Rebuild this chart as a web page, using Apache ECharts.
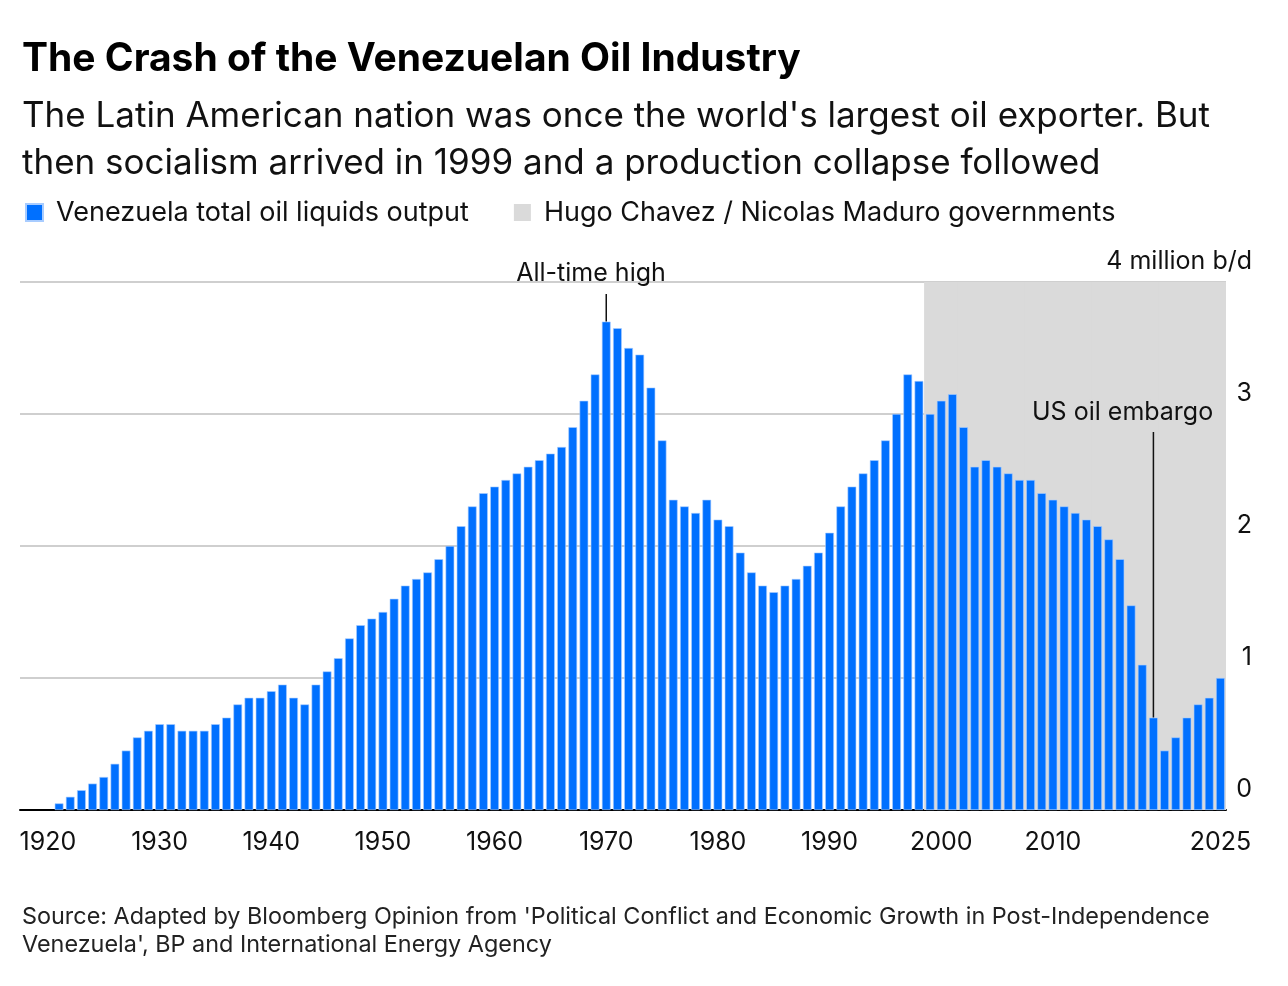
<!DOCTYPE html>
<html><head><meta charset="utf-8">
<script src="https://cdn.jsdelivr.net/npm/echarts@6/dist/echarts.min.js"></script>
<style>html,body{margin:0;padding:0;background:#fff}#c{width:1288px;height:986px}</style>
</head><body><div id="c"></div>
<script>
const years = [];
for (let y = 1918; y <= 2025; y++) years.push(String(y));
const output = [null,null,null,
0.05,0.1,0.15,0.2,0.25,0.35,0.45,0.55,0.6,0.65,
0.65,0.6,0.6,0.6,0.65,0.7,0.8,0.85,0.85,0.9,
0.95,0.85,0.8,0.95,1.05,1.15,1.3,1.4,1.45,1.5,
1.6,1.7,1.75,1.8,1.9,2.0,2.15,2.3,2.4,2.45,
2.5,2.55,2.6,2.65,2.7,2.75,2.9,3.1,3.3,3.7,
3.65,3.5,3.45,3.2,2.8,2.35,2.3,2.25,2.35,2.2,
2.15,1.95,1.8,1.7,1.65,1.7,1.75,1.85,1.95,2.1,
2.3,2.45,2.55,2.65,2.8,3.0,3.3,3.25,3.0,3.1,
3.15,2.9,2.6,2.65,2.6,2.55,2.5,2.5,2.4,2.35,
2.3,2.25,2.2,2.15,2.05,1.9,1.55,1.1,0.7,0.45,
0.55,0.7,0.8,0.85,1.0];
const govStart = 1999, govEnd = 2025, govTop = 4;
const govBand = years.map(y => (+y >= govStart && +y <= govEnd) ? govTop : null);
const labelYears = ['1920','1930','1940','1950','1960','1970','1980','1990','2000','2010','2025'];
const yTicks = [0,1,2,3,4];
const FONT = 'Inter, Liberation Sans, Arial, sans-serif';
const chart = echarts.init(document.getElementById('c'));
chart.setOption({
  animation:false,
  textStyle:{fontFamily:FONT},
  title:[
    {text:'The Crash of the Venezuelan Oil Industry',left:17,top:35,textStyle:{fontSize:39,fontWeight:'bold',color:'#000',fontFamily:FONT}},
    {text:"The Latin American nation was once the world's largest oil exporter. But\nthen socialism arrived in 1999 and a production collapse followed",left:17,top:88,textStyle:{fontSize:35,fontWeight:'normal',color:'#111',lineHeight:47,fontFamily:FONT}},
    {text:"Source: Adapted by Bloomberg Opinion from 'Political Conflict and Economic Growth in Post-Independence\nVenezuela', BP and International Energy Agency",left:17,top:898,textStyle:{fontSize:23.4,fontWeight:'normal',color:'#222',lineHeight:28,fontFamily:FONT}}
  ],
  legend:{left:20,top:194,icon:'rect',itemWidth:17,itemHeight:17,itemGap:45,
    textStyle:{fontSize:27,color:'#111',padding:[0,0,0,8]},
    data:['Venezuela total oil liquids output','Hugo Chavez / Nicolas Maduro governments']},
  grid:{left:20,right:62,top:282,bottom:176},
  xAxis:[{type:'category',data:years,
    axisLine:{lineStyle:{color:'#000',width:2}},
    axisTick:{alignWithLabel:true,interval:(i,v)=>(+v)%2===0,length:7,lineStyle:{color:'#000',width:1.5}},
    axisLabel:{interval:(i,v)=>labelYears.includes(v),fontSize:25,color:'#111',margin:20}},
    {type:'category',data:years,show:false}],
  yAxis:{type:'value',position:'right',min:0,max:4,interval:1,
    splitLine:{lineStyle:{color:'#cfcfcf',width:2}},
    axisLine:{show:false},axisTick:{show:false},
    axisLabel:{margin:26,align:'right',verticalAlign:'bottom',padding:[0,0,8,0],fontSize:25,color:'#111',
      formatter:v=>yTicks.includes(v)?(v===4?'4 million b/d':String(v)):''}},
  series:[
    {name:'Hugo Chavez / Nicolas Maduro governments',type:'bar',xAxisIndex:1,data:govBand,barWidth:12,
      itemStyle:{color:'#dadada'},silent:true,z:1},
    {name:'Venezuela total oil liquids output',type:'bar',xAxisIndex:0,data:output,barWidth:'78%',
      itemStyle:{color:'#0070ff',borderColor:'#a8ccff',borderWidth:0.6},z:3}
  ]
});
function pt(x,y){return chart.convertToPixel({xAxisIndex:0,yAxisIndex:0},[x,y]);}
const a = pt('1970',3.7), b = pt('2019',0.7);
chart.setOption({graphic:[
  {type:'text',left:a[0]-90,top:261,style:{text:'All-time high',font:'25px '+FONT,fill:'#111',width:180,align:'center'}},
  {type:'line',shape:{x1:a[0],y1:294,x2:a[0],y2:a[1]},style:{stroke:'#111',lineWidth:1.5},z:10},
  {type:'text',left:1030,top:398,style:{text:'US oil embargo',font:'25px '+FONT,fill:'#111',stroke:'#dadada',lineWidth:4},z:10},
  {type:'line',shape:{x1:b[0],y1:432,x2:b[0],y2:b[1]},style:{stroke:'#111',lineWidth:1.5},z:10}
]});
</script></body></html>
